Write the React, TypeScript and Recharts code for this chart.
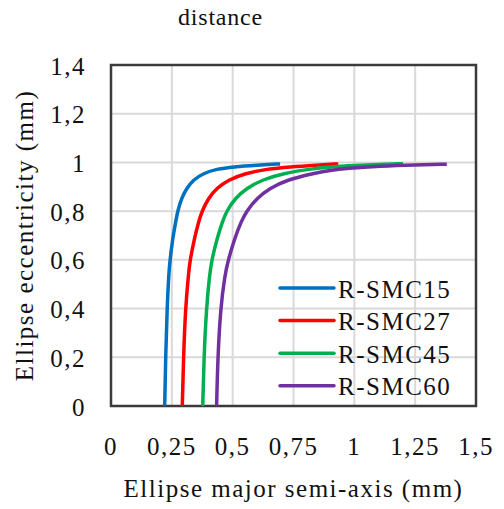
import { LineChart, Line, XAxis, YAxis, CartesianGrid, ReferenceArea, Legend, Label } from 'recharts';

// major semi-axis (mm) and eccentricity, one pair of arrays per series
const smc15A = [0.2207, 0.2245, 0.2305, 0.2372, 0.2425, 0.2535, 0.266, 0.274, 0.29, 0.311, 0.338, 0.379, 0.434, 0.503, 0.599, 0.695];
const smc15E = [0, 0.2, 0.4, 0.538, 0.6, 0.688, 0.757, 0.8, 0.853, 0.894, 0.928, 0.955, 0.973, 0.982, 0.989, 0.994];

const smc27A = [0.293, 0.298, 0.306, 0.318, 0.325, 0.343, 0.36, 0.374, 0.4, 0.434, 0.482, 0.551, 0.64, 0.736, 0.845, 0.934];
const smc27E = [0, 0.2, 0.4, 0.538, 0.6, 0.688, 0.757, 0.8, 0.853, 0.894, 0.928, 0.955, 0.973, 0.982, 0.989, 0.994];

const smc45A = [0.377, 0.382, 0.392, 0.405, 0.414, 0.436, 0.458, 0.475, 0.51, 0.558, 0.619, 0.708, 0.818, 0.9, 1.0, 1.1, 1.2];
const smc45E = [0, 0.2, 0.4, 0.538, 0.6, 0.688, 0.757, 0.8, 0.853, 0.894, 0.928, 0.955, 0.973, 0.982, 0.988, 0.992, 0.995];

const smc60A = [0.434, 0.439, 0.45, 0.468, 0.482, 0.508, 0.535, 0.557, 0.599, 0.653, 0.722, 0.831, 0.9, 0.969, 1.106, 1.25, 1.38];
const smc60E = [0, 0.2, 0.4, 0.538, 0.6, 0.688, 0.757, 0.8, 0.853, 0.894, 0.928, 0.955, 0.968, 0.976, 0.985, 0.99, 0.993];

const seriesNames = ['R-SMC15', 'R-SMC27', 'R-SMC45', 'R-SMC60'];
const seriesColors = ['#0070C0', '#FF0000', '#00B050', '#7030A0'];

const xTicks = [0, 0.25, 0.5, 0.75, 1, 1.25, 1.5];
const yTicks = [0, 0.2, 0.4, 0.6, 0.8, 1, 1.2, 1.4];

const toRows = (a: number[], e: number[]) => a.map((v, i) => ({ a: v, e: e[i] }));
const series = [
  toRows(smc15A, smc15E),
  toRows(smc27A, smc27E),
  toRows(smc45A, smc45E),
  toRows(smc60A, smc60E),
];

const font = { fontFamily: '"Liberation Serif", "Times New Roman", serif', fontSize: 25, letterSpacing: 1.5, fill: '#111' };
const fmt = (v: number) => String(v).replace('.', ',');

const XTick = ({ x, y, payload }: any) => (
  <text x={x} y={y} dy={49} textAnchor="middle" {...font}>
    {fmt(payload.value)}
  </text>
);

const YTick = ({ x, y, payload }: any) => (
  <text x={x - 25} y={y} dy={9.5} textAnchor="end" {...font}>
    {fmt(payload.value)}
  </text>
);

const LegendBox = ({ payload }: any) => (
  <svg width={200} height={140}>
    {(payload || []).map((p: any, i: number) => {
      const cy = 23 + i * 32.6;
      return (
        <g key={p.value}>
          <line x1={10} x2={64} y1={cy} y2={cy} stroke={p.color} strokeWidth={3.5} strokeLinecap="round" />
          <text x={68} y={cy + 9.5} {...font}>{p.value}</text>
        </g>
      );
    })}
  </svg>
);

export default function App() {
  return (
    <div style={{ position: 'absolute', left: 0, top: 0, width: 504, height: 509, background: '#fff' }}>
      <div
        style={{
          position: 'absolute', left: 0, top: 4, width: 441, textAlign: 'center',
          fontFamily: '"Liberation Serif", serif', fontSize: 24, letterSpacing: 0.8, color: '#111',
        }}
      >
        distance
      </div>
      <LineChart width={504} height={509} margin={{ top: 65, right: 28, left: 0, bottom: 0 }}>
        <CartesianGrid stroke="#d9d9d9" strokeWidth={2} horizontalValues={yTicks} verticalValues={xTicks} />
        <XAxis
          type="number"
          dataKey="a"
          domain={[0, 1.5]}
          ticks={xTicks}
          height={103}
          axisLine={false}
          tickLine={false}
          tickSize={0}
          tickMargin={0}
          tick={<XTick />}
          interval={0}
        >
          <Label value="Ellipse major semi-axis (mm)" position="insideBottom" offset={12} {...font} />
        </XAxis>
        <YAxis
          type="number"
          dataKey="e"
          domain={[0, 1.4]}
          ticks={yTicks}
          width={111}
          axisLine={false}
          tickLine={false}
          tickSize={0}
          tickMargin={0}
          tick={<YTick />}
          interval={0}
        >
          <Label
            content={({ viewBox }: any) => {
              const cy = viewBox.y + viewBox.height / 2;
              return (
                <text x={33} y={cy} transform={`rotate(-90 33 ${cy})`} textAnchor="middle" {...font}>
                  Ellipse eccentricity (mm)
                </text>
              );
            }}
          />
        </YAxis>
        <ReferenceArea x1={0} x2={1.5} y1={0} y2={1.4} fill="none" stroke="#3a3a3a" strokeWidth={2.5} ifOverflow="visible" />
        {series.map((d, i) => (
          <Line
            key={seriesNames[i]}
            data={d}
            dataKey="e"
            name={seriesNames[i]}
            type="basis"
            stroke={seriesColors[i]}
            strokeWidth={3.5}
            dot={false}
            isAnimationActive={false}
          />
        ))}
        <Legend
          layout="vertical"
          align="center"
          verticalAlign="middle"
          content={<LegendBox />}
          wrapperStyle={{ left: 270, top: 265, width: 200, height: 140 }}
        />
      </LineChart>
    </div>
  );
}
